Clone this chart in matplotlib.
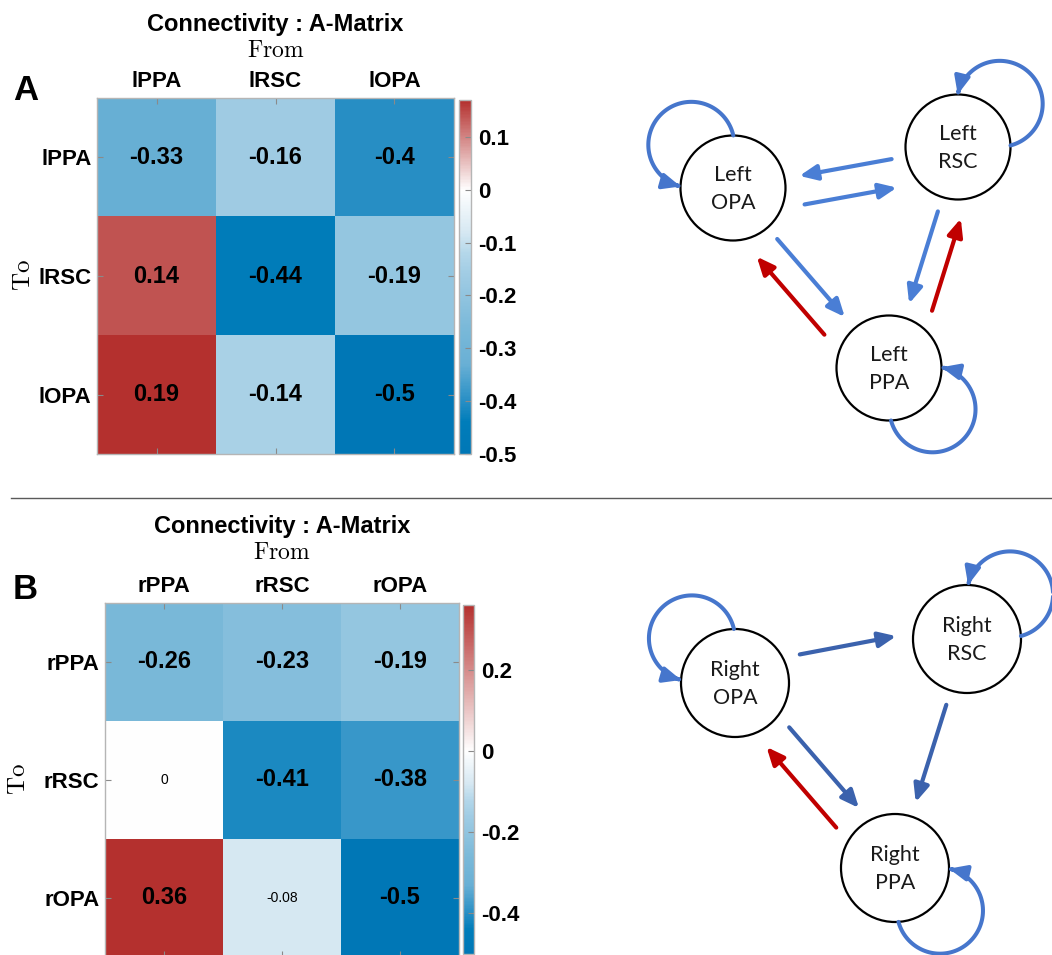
import matplotlib
matplotlib.use("Agg")
import numpy as np
import matplotlib.pyplot as plt
from matplotlib.colors import LinearSegmentedColormap, Normalize
from matplotlib.patches import Circle, FancyArrowPatch, ArrowStyle
from matplotlib.path import Path

plt.rcParams["font.family"] = ["Liberation Sans", "DejaVu Sans"]
plt.rcParams["axes.unicode_minus"] = False
plt.rcParams["mathtext.fontset"] = "cm"

# ---- data -------------------------------------------------------------
REGIONS = ["PPA", "RSC", "OPA"]
LEFT_LABELS = ["lPPA", "lRSC", "lOPA"]
RIGHT_LABELS = ["rPPA", "rRSC", "rOPA"]

# A-matrix, rows = "To", columns = "From"
LEFT_A = [[-0.33, -0.16, -0.4],
          [0.14, -0.44, -0.19],
          [0.19, -0.14, -0.5]]
RIGHT_A = [[-0.26, -0.23, -0.19],
           [0.0, -0.41, -0.38],
           [0.36, -0.08, -0.5]]

LEFT_CLIM = (-0.5, 0.17)
RIGHT_CLIM = (-0.5, 0.36)
LEFT_CTICKS = [-0.5, -0.4, -0.3, -0.2, -0.1, 0, 0.1]
LEFT_CTICK_LABELS = ["-0.5", "-0.4", "-0.3", "-0.2", "-0.1", "0", "0.1"]
RIGHT_CTICKS = [-0.4, -0.2, 0, 0.2]
RIGHT_CTICK_LABELS = ["-0.4", "-0.2", "0", "0.2"]

EDGE_MIN = 0.1  # connections drawn in the diagrams

# ---- style / layout ----------------------------------------------------
W, H = 1052, 955
BLUE_STOPS = [(-0.5, "#0077b6"), (-0.44, "#007dba"), (-0.4, "#288fc5"),
              (-0.33, "#69b0d5"), (-0.26, "#7ab9d9"), (-0.16, "#a0cce4"),
              (-0.12, "#b4d7ea"), (-0.08, "#d6e8f2"), (0.0, "#ffffff")]
RED_END = "#b4302e"
RED = "#c00000"
LOOP_BLUE = "#4676cc"

TOP_CENTERS = {"PPA": (889, 368), "RSC": (958, 147), "OPA": (733, 188)}
BOT_CENTERS = {"PPA": (895, 868), "RSC": (967, 639), "OPA": (735, 683)}
LOOP_PHI = {"PPA": -43.5, "RSC": 46, "OPA": 134}
TOP_OFFSETS = {("OPA", "RSC"): 29, ("PPA", "OPA"): -27, ("PPA", "RSC"): 24}
BOT_OFFSETS = {("OPA", "RSC"): -16, ("OPA", "PPA"): -12, ("PPA", "OPA"): -18}
LOOP_R = 43
GAP = 15


def frac_rect(x0, y0, x1, y1):
    return [x0 / W, 1 - y1 / H, (x1 - x0) / W, (y1 - y0) / H]


def make_cmap(vmin, vmax):
    span = vmax - vmin
    stops = [((v - vmin) / span, c) for v, c in BLUE_STOPS]
    stops.append((1.0, RED_END))
    return LinearSegmentedColormap.from_list("conn", stops)


def draw_matrix(fig, rect, cbar_rect, values, labels, clim, cticks, ctick_labels):
    ax = fig.add_axes(frac_rect(*rect))
    norm = Normalize(*clim)
    im = ax.imshow(np.array(values), cmap=make_cmap(*clim), norm=norm, aspect="auto")
    ax.set_xticks(range(len(labels)))
    ax.set_yticks(range(len(labels)))
    ax.set_xticklabels(labels, fontsize=16, fontweight="bold")
    ax.set_yticklabels(labels, fontsize=16, fontweight="bold")
    ax.tick_params(top=True, bottom=True, left=True, right=True,
                   labeltop=True, labelbottom=False, direction="in",
                   length=4, width=0.8, color="#8a8a8a")
    ax.tick_params(axis="x", pad=4.5)
    ax.tick_params(axis="y", pad=4)
    for sp in ax.spines.values():
        sp.set_edgecolor("#b5b5b5")
        sp.set_linewidth(1.0)

    for i, row in enumerate(values):
        for j, v in enumerate(row):
            if abs(v) >= EDGE_MIN:
                ax.text(j, i, f"{v:g}", ha="center", va="center",
                        fontsize=17, fontweight="bold", color="black")
            else:
                ax.text(j, i, f"{v:g}", ha="center", va="center",
                        fontsize=10, color="black")

    cax = fig.add_axes(frac_rect(*cbar_rect))
    cb = fig.colorbar(im, cax=cax, ticks=cticks)
    cb.set_ticklabels(ctick_labels)
    cax.tick_params(labelsize=16, direction="in", length=4, width=0.8,
                    color="#8a8a8a", pad=5)
    for t in cax.get_yticklabels():
        t.set_fontweight("bold")
    cb.outline.set_edgecolor("#b5b5b5")
    cb.outline.set_linewidth(1.0)
    return ax


def draw_network(ax, values, hemi, centers, radius, loop_dist, offsets, line_color):
    head = ArrowStyle("-|>", head_length=10.5, head_width=4.6)
    for name in REGIONS:
        cx, cy = centers[name]
        ax.add_patch(Circle((cx, cy), radius, facecolor="white",
                            edgecolor="black", lw=1.6, zorder=2))
        ax.text(cx, cy + 1, f"{hemi}\n{name}", ha="center", va="center",
                fontsize=15.5, family=["Lato", "DejaVu Sans"], linespacing=1.5,
                color="#1a1a1a", zorder=4)

    for to in range(3):
        for frm in range(3):
            v = values[to][frm]
            src, dst = REGIONS[frm], REGIONS[to]
            if to == frm:
                cx, cy = centers[src]
                phi = LOOP_PHI[src]
                lx = cx + loop_dist * np.cos(np.radians(phi))
                ly = cy - loop_dist * np.sin(np.radians(phi))
                theta = np.degrees(np.arccos(
                    (loop_dist ** 2 + LOOP_R ** 2 - radius ** 2) / (2 * loop_dist * LOOP_R)))
                back = phi + 180
                a = np.radians(np.linspace(back + theta, back + 360 - theta, 90))
                pts = np.column_stack([lx + LOOP_R * np.cos(a), ly - LOOP_R * np.sin(a)])
                color = RED if v > 0 else LOOP_BLUE
                ax.add_patch(FancyArrowPatch(path=Path(pts), arrowstyle=head,
                                             color=color, lw=2.9, zorder=3))
            elif abs(v) >= EDGE_MIN:
                s = np.array(centers[src], dtype=float)
                e = np.array(centers[dst], dtype=float)
                u = (e - s) / np.hypot(*(e - s))
                n = np.array([-u[1], u[0]])
                off = offsets.get((src, dst), 0)
                p0 = s + u * (radius + GAP) + n * off
                p1 = e - u * (radius + GAP) + n * off
                color = RED if v > 0 else line_color
                ax.add_patch(FancyArrowPatch(tuple(p0), tuple(p1), arrowstyle=head,
                                             shrinkA=0, shrinkB=0, color=color,
                                             lw=3.0, zorder=3))


fig = plt.figure(figsize=(W / 100, H / 100), dpi=100)

ov = fig.add_axes([0, 0, 1, 1])
ov.set_xlim(0, W)
ov.set_ylim(H, 0)
ov.axis("off")

draw_matrix(fig, (97, 98, 454, 454), (459, 100, 471, 454), LEFT_A, LEFT_LABELS,
            LEFT_CLIM, LEFT_CTICKS, LEFT_CTICK_LABELS)
draw_matrix(fig, (105, 603, 459, 957), (463, 605, 474, 954), RIGHT_A, RIGHT_LABELS,
            RIGHT_CLIM, RIGHT_CTICKS, RIGHT_CTICK_LABELS)

# titles and axis names
ov.text(275.5, 31.5, "Connectivity : A-Matrix", ha="center", va="baseline",
        fontsize=17, fontweight="bold")
ov.text(275.5, 57, r"$\mathrm{From}$", ha="center", va="baseline", fontsize=17)
ov.text(22.5, 275, r"$\mathrm{To}$", ha="center", va="center", rotation=90, fontsize=18)
ov.text(13, 100, "A", ha="left", va="baseline", fontsize=25, fontweight="bold")

ov.text(282, 533, "Connectivity : A-Matrix", ha="center", va="baseline",
        fontsize=17, fontweight="bold")
ov.text(282, 559, r"$\mathrm{From}$", ha="center", va="baseline", fontsize=17)
ov.text(18, 779, r"$\mathrm{To}$", ha="center", va="center", rotation=90, fontsize=18)
ov.text(13, 599, "B", ha="left", va="baseline", fontsize=25, fontweight="bold")

ov.plot([11, W], [497.5, 497.5], color="#5a5a5a", lw=1.0)

draw_network(ov, LEFT_A, "Left", TOP_CENTERS, 52.5, 60, TOP_OFFSETS, "#4a7ed5")
draw_network(ov, RIGHT_A, "Right", BOT_CENTERS, 54, 62, BOT_OFFSETS, "#3b62ad")

fig.savefig("out.png", dpi=100)
